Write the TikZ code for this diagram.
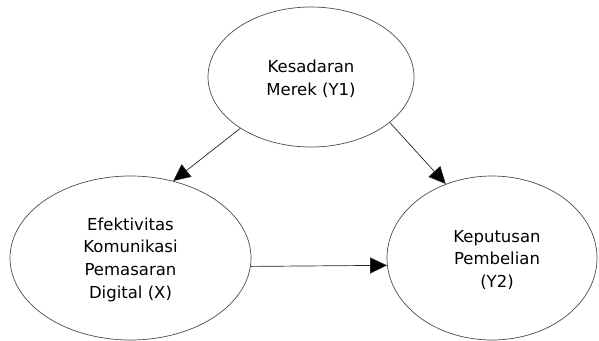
\documentclass[tikz,border=0pt]{standalone}
\usepackage{fontspec}
\setmainfont{DejaVu Sans}
\usetikzlibrary{shapes.geometric,arrows.meta}
\begin{document}
\begin{tikzpicture}[x=1pt,y=-1pt,
  ell/.style={draw=black!70,line width=0.7pt,ellipse,inner sep=0pt,align=center,
    font=\fontsize{16.5}{22.7}\selectfont},
  conn/.style={draw=black!85,line width=0.7pt,-{Triangle[length=17pt,width=16pt,fill=black]}}]
\useasboundingbox (0,0) rectangle (599,340);
\node[ell,minimum width=206pt,minimum height=140pt] (y1) at (311,77) {\rule{0pt}{16pt}Kesadaran\\Merek (Y1)};
\node[ell,minimum width=241pt,minimum height=164pt] (x) at (130.5,258) {\rule{0pt}{16pt}Efektivitas\\Komunikasi\\Pemasaran\\Digital (X)};
\node[ell,minimum width=210pt,minimum height=164pt] (y2) at (492,258) {\rule{0pt}{16pt}\hspace*{10pt}Keputusan\\\hspace*{10pt}Pembelian\\\hspace*{10pt}(Y2)};
\draw[conn] (y1.216) -- (x.61);
\draw[conn] (y1.-30) -- (y2.122);
\draw[conn] (x.-4) -- (y2.184);
\end{tikzpicture}
\end{document}
